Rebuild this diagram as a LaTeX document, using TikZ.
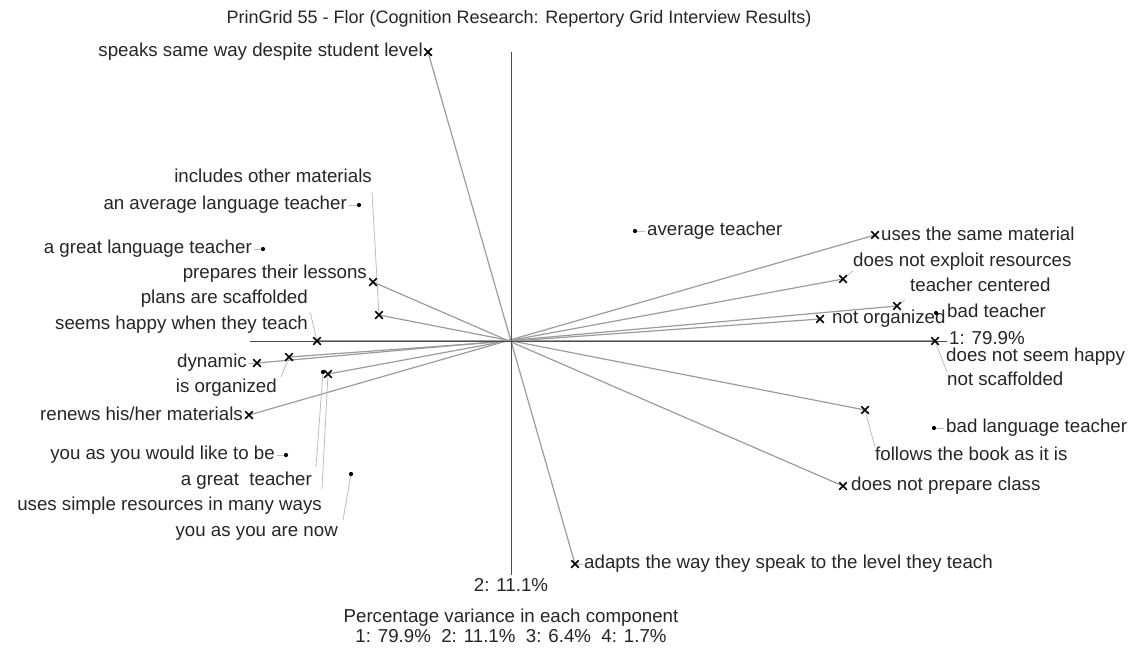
\documentclass[tikz,border=0pt]{standalone}
\usepackage{fontspec}
\setmainfont{Liberation Sans}
\usetikzlibrary{shapes.misc}
\definecolor{txt}{HTML}{262626}
\definecolor{cline}{HTML}{9C9C9C}
\definecolor{axisc}{HTML}{4D4D4D}
\definecolor{lead}{HTML}{BDBDBD}
\begin{document}
\begin{tikzpicture}[x=1pt,y=-1pt,
  lbl/.style={font=\fontsize{18.7}{20}\selectfont, text=txt, inner sep=0pt,
              text height=13.5pt, text depth=4pt},
  ttl/.style={lbl, font=\fontsize{18}{20}\selectfont},
  construct/.style={draw=cline, line width=1.2pt},
  axisline/.style={draw=axisc, line width=1pt},
  leader/.style={draw=lead, line width=0.8pt},
  xm/.style={cross out, draw=black, line width=1.5pt, minimum size=6pt, inner sep=0pt},
  dotm/.style={circle, fill=black, inner sep=0pt, minimum size=4.2pt}]
\useasboundingbox (0,0) rectangle (1140,649);
\fill[white] (0,0) rectangle (1140,649);

% origin and axes
\coordinate (O) at (511,341);
\coordinate (hL) at (250,341);
\coordinate (hR) at (947,341);
\coordinate (vT) at (511,52);
\coordinate (vB) at (511,575);

% construct poles
\coordinate (cA1) at (428,52);   \coordinate (cA2) at (575,564);
\coordinate (cB1) at (373,282);  \coordinate (cB2) at (843,486);
\coordinate (cC1) at (379,315);  \coordinate (cC2) at (865,410);
\coordinate (cD1) at (317,341);  \coordinate (cD2) at (935,341);
\coordinate (cE1) at (317,341);  \coordinate (cE2) at (935,341);
\coordinate (cF1) at (289,357);  \coordinate (cF2) at (820,319);
\coordinate (cG1) at (257,363);  \coordinate (cG2) at (897,306);
\coordinate (cH1) at (328,374);  \coordinate (cH2) at (843,279);
\coordinate (cI1) at (249,415);  \coordinate (cI2) at (875,235);

% construct lines, pole to pole through the origin
\foreach \c in {A,B,C,D,E,F,G,H,I}
  \draw[construct] (c\c1) -- (c\c2);

% axes
\draw[axisline] (hL) -- (hR);
\draw[axisline] (vT) -- (vB);

% title and axis labels
\node[ttl] (title) at (519,19) {PrinGrid 55 - Flor (Cognition Research: Repertory Grid Interview Results)};
\node[lbl, anchor=west] (ax1) at (949,340) {1: 79.9\%};
\node[lbl] (ax2) at (511,587) {2: 11.1\%};
\node[lbl] (var1) at (511,618) {Percentage variance in each component};
\node[lbl] (var2) at (511,638) {1: 79.9\%\ \ 2: 11.1\%\ \ 3: 6.4\%\ \ 4: 1.7\%};

% construct labels
\node[lbl, anchor=east] (lA1) at (423,52)  {speaks same way despite student level};
\node[lbl, anchor=west] (lA2) at (584,564) {adapts the way they speak to the level they teach};
\node[lbl, anchor=east] (lB1) at (367,274) {prepares their lessons};
\node[lbl, anchor=west] (lB2) at (851,486) {does not prepare class};
\node[lbl, anchor=east] (lC1) at (372,178) {includes other materials};
\node[lbl, anchor=west] (lC2) at (875,456) {follows the book as it is};
\node[lbl, anchor=east] (lD1) at (308,325) {seems happy when they teach};
\node[lbl, anchor=west] (lD2) at (946,357) {does not seem happy};
\node[lbl, anchor=east] (lE1) at (308,299) {plans are scaffolded};
\node[lbl, anchor=west] (lE2) at (947,381) {not scaffolded};
\node[lbl, anchor=east] (lF1) at (277,388) {is organized};
\node[lbl, anchor=west] (lF2) at (832,319) {not organized};
\node[lbl, anchor=east] (lG1) at (247,363) {dynamic};
\node[lbl, anchor=west] (lG2) at (910,287) {teacher centered};
\node[lbl, anchor=east] (lH1) at (322,506) {uses simple resources in many ways};
\node[lbl, anchor=west] (lH2) at (853,262) {does not exploit resources};
\node[lbl, anchor=east] (lI1) at (243,416) {renews his/her materials};
\node[lbl, anchor=west] (lI2) at (881,236) {uses the same material};

% element labels
\coordinate (e1) at (359,205);
\coordinate (e2) at (263,249);
\coordinate (e3) at (286,455);
\coordinate (e4) at (351,474);
\coordinate (e5) at (323,372);
\coordinate (e6) at (635,231);
\coordinate (e7) at (936,313);
\coordinate (e8) at (934,428);
\node[lbl, anchor=east] (l1) at (347,205) {an average language teacher};
\node[lbl, anchor=east] (l2) at (252,249) {a great language teacher};
\node[lbl, anchor=east] (l3) at (275,455) {you as you would like to be};
\node[lbl, anchor=east] (l4) at (338,532) {you as you are now};
\node[lbl, anchor=east] (l5) at (312,481) {a great~ teacher};
\node[lbl, anchor=west] (l6) at (647,231) {average teacher};
\node[lbl, anchor=west] (l7) at (947,313) {bad teacher};
\node[lbl, anchor=west] (l8) at (946,428) {bad language teacher};

% leader lines from labels to their markers
\draw[leader] ([yshift=-5pt]lC1.south east) -- (cC1);
\draw[leader] (lC2.north west) -- (cC2);
\draw[leader] ([xshift=2pt,yshift=-4pt]lE1.south east) -- (cE1);
\draw[leader] (lE2.north west) -- (cE2);
\draw[leader] ([xshift=4pt,yshift=2pt]lF1.north east) -- (cF1);
\draw[leader] ([xshift=-5pt,yshift=-4pt]lG2.south west) -- (cG2);
\draw[leader] ([yshift=8pt]lH1.north east) -- (cH1);
\draw[leader] (lH2.south west) -- (cH2);
\draw[leader, shorten <=1pt] (lG1.east) -- (cG1);
\draw[leader, shorten <=1pt] (lA2.west) -- (cA2);
\draw[leader, shorten <=2pt] (l1.east) -- (e1);
\draw[leader, shorten <=2pt] (l2.east) -- (e2);
\draw[leader, shorten <=2pt] (l3.east) -- (e3);
\draw[leader] ([xshift=5pt,yshift=3pt]l4.north east) -- (e4);
\draw[leader] ([xshift=4pt,yshift=5pt]l5.north east) -- (e5);
\draw[leader, shorten <=2pt] (l6.west) -- (e6);
\draw[leader, shorten <=2pt] (l8.west) -- (e8);

% markers: crosses for construct poles, dots for elements
\foreach \c in {A,B,C,D,F,G,H,I} {
  \node[xm] (m\c1) at (c\c1) {};
  \node[xm] (m\c2) at (c\c2) {};
}
\foreach \e in {1,...,8}
  \node[dotm] (d\e) at (e\e) {};
\end{tikzpicture}
\end{document}
